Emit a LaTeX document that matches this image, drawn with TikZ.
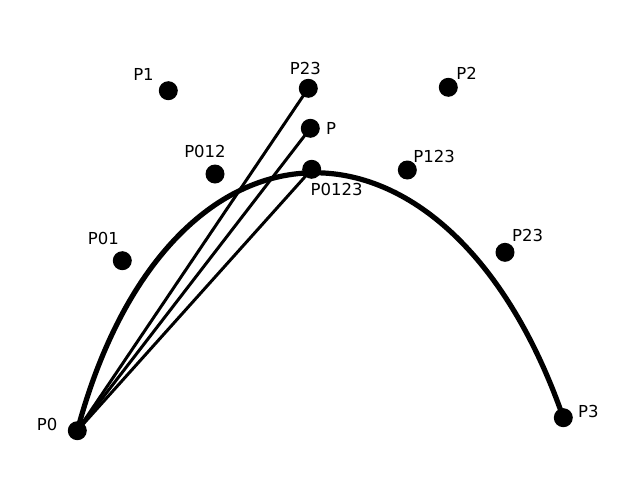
\documentclass[tikz,border=0pt]{standalone}
\usepackage{fontspec}
\setmainfont{DejaVu Sans}
\usepackage{tikz}
\usetikzlibrary{
    positioning
}
\tikzset{
    % 点のスタイル
    dot/.style={
        circle,
        fill=black,
        inner sep=0pt,
        minimum size=19pt
    },
    % ラベルのスタイル
    lbl/.style={
        inner sep=1pt,
        font=\fontsize{16.5}{20}\selectfont
    },
    % ベジェ曲線のスタイル
    curve/.style={
        line width=5.2pt,
        line cap=round
    },
    % P0から出る直線
    chord/.style={
        line width=3pt
    }
}

\begin{document}
\begin{tikzpicture}[x=1pt, y=-1pt]
    \useasboundingbox (0,0) rectangle (640,480);

    % [1] 端点と制御点
    \node[dot] (p0) at (77.3,430.7) {};
    \node[dot] (p1) at (168.3,90.7) {};
    \node[dot] (p2) at (448.3,87.3) {};
    \node[dot] (p3) at (563.3,417.7) {};

    % [2] 中点
    \node[dot] (p01) at (122.3,260.7) {};
    \node[dot] (p12) at (308.3,88.3) {};
    \node[dot] (p23) at (505,252.3) {};
    \node[dot] (p012) at (215,174) {};
    \node[dot] (p123) at (407.3,170) {};
    \node[dot] (p0123) at (311.7,169.3) {};
    \node[dot] (p) at (310.3,128.3) {};

    % ラベル
    \node[lbl, left=9pt of p0, yshift=6pt] {P0};
    \node[lbl, above left=2pt and 6.5pt of p1] {P1};
    \node[lbl, above right=0pt and 0pt of p2] {P2};
    \node[lbl, right=4pt of p3, yshift=6pt] {P3};
    \node[lbl, above=5pt of p01, xshift=-19pt] {P01};
    \node[lbl, above=3pt of p12, xshift=-3pt] {P23};
    \node[lbl, above right=3pt and -1pt of p23] {P23};
    \node[lbl, above=5pt of p012, xshift=-10pt] {P012};
    \node[lbl, above right=-1pt and -2pt of p123] {P123};
    \node[lbl, below=3pt of p0123, xshift=25pt] {P0123};
    \node[lbl, right=5pt of p] {P};

    % 曲線の描画
    \draw[curve] (p0.center) .. controls (p1.center) and (p2.center) .. (p3.center);

    % P0からの直線
    \draw[chord] (p0.center) -- (p12.center);
    \draw[chord] (p0.center) -- (p.center);
    \draw[chord] (p0.center) -- (p0123.center);

\end{tikzpicture}
\end{document}
